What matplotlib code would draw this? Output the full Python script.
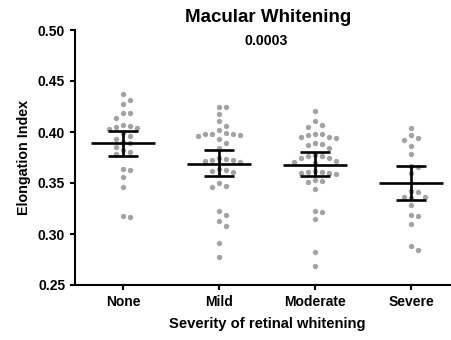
import matplotlib
matplotlib.use("Agg")
import matplotlib.pyplot as plt
import numpy as np

plt.rcParams['font.family'] = ['Liberation Sans', 'DejaVu Sans']
plt.rcParams['font.weight'] = 'bold'

groups = ["None", "Mild", "Moderate", "Severe"]

none_vals = [0.437, 0.431, 0.427, 0.419, 0.419, 0.414, 0.407, 0.406, 0.405, 0.404,
             0.403, 0.399, 0.396, 0.393, 0.390, 0.389, 0.385, 0.382, 0.380, 0.378,
             0.364, 0.363, 0.356, 0.346, 0.318, 0.317]
mild_vals = [0.425, 0.425, 0.418, 0.411, 0.406, 0.402, 0.399, 0.398, 0.398, 0.398,
             0.397, 0.396, 0.393, 0.389, 0.384, 0.375, 0.374, 0.373, 0.373, 0.372,
             0.371, 0.364, 0.363, 0.362, 0.361, 0.350, 0.347, 0.346, 0.323, 0.319,
             0.313, 0.308, 0.291, 0.277]
moderate_vals = [0.421, 0.411, 0.407, 0.405, 0.398, 0.398, 0.397, 0.395, 0.395, 0.394,
                 0.389, 0.388, 0.387, 0.384, 0.377, 0.376, 0.376, 0.375, 0.375, 0.372,
                 0.371, 0.370, 0.362, 0.361, 0.361, 0.360, 0.360, 0.359, 0.353, 0.352,
                 0.351, 0.344, 0.323, 0.322, 0.315, 0.282, 0.269]
severe_vals = [0.404, 0.397, 0.394, 0.392, 0.386, 0.378, 0.367, 0.366, 0.360, 0.342,
               0.341, 0.336, 0.336, 0.335, 0.328, 0.319, 0.318, 0.310, 0.288, 0.284]

means = [0.389, 0.369, 0.368, 0.350]
ci_low = [0.376, 0.357, 0.357, 0.333]
ci_high = [0.401, 0.382, 0.380, 0.367]

p_value = "0.0003"

# pixel scales used for swarm spacing (96 px per category, 1020 px per unit)
PX_X = 96.0
PX_Y = 1020.0


def swarm_offsets(vals, gap=7.0):
    order = np.argsort(vals)[::-1]
    placed = []
    offs = np.zeros(len(vals))
    for i in order:
        y = vals[i] * PX_Y
        k = 0
        while True:
            cands = [0.0] if k == 0 else [k * gap, -k * gap]
            ok = None
            for c in cands:
                if all((c - px) ** 2 + (y - py) ** 2 >= gap ** 2 for px, py in placed):
                    ok = c
                    break
            if ok is not None:
                break
            k += 1
        placed.append((ok, y))
        offs[i] = ok / PX_X
    return offs


fig = plt.figure(figsize=(4.52, 3.40), dpi=100)
ax = fig.add_axes([75 / 452, 55 / 340, 384 / 452, 255 / 340])

all_vals = [none_vals, mild_vals, moderate_vals, severe_vals]
for i, vals in enumerate(all_vals):
    vals = np.array(vals)
    xs = i + swarm_offsets(vals)
    ax.scatter(xs, vals, s=15, color="#a3a3a3", linewidths=0, zorder=2, clip_on=False)

x = np.arange(len(groups))
ax.hlines(means, x - 0.33, x + 0.33, color="black", lw=1.9, zorder=3)
ax.hlines(ci_low, x - 0.16, x + 0.16, color="black", lw=1.9, zorder=3)
ax.hlines(ci_high, x - 0.16, x + 0.16, color="black", lw=1.9, zorder=3)
ax.vlines(x, ci_low, ci_high, color="black", lw=1.9, zorder=3)

ax.set_xlim(-0.5, 3.5)
ax.set_ylim(0.25, 0.50)
ax.set_xticks(x)
ax.set_xticklabels(groups)
ax.set_yticks([0.25, 0.30, 0.35, 0.40, 0.45, 0.50])
ax.set_yticklabels(["0.25", "0.30", "0.35", "0.40", "0.45", "0.50"])
ax.tick_params(axis="both", labelsize=10, width=1.5, length=3.6, pad=3.5)

for s in ["top", "right"]:
    ax.spines[s].set_visible(False)
for s in ["left", "bottom"]:
    ax.spines[s].set_linewidth(1.5)

ax.set_ylabel("Elongation Index", fontsize=10.3, fontweight="bold", labelpad=5)
ax.set_xlabel("Severity of retinal whitening", fontsize=10.6, fontweight="bold", labelpad=6)

fig.text(268 / 452, 1 - 18 / 340, "Macular Whitening", ha="center", va="center",
         fontsize=13.5, fontweight="bold")
fig.text(266 / 452, 1 - 41 / 340, p_value, ha="center", va="center",
         fontsize=10.2, fontweight="bold")

fig.savefig("out.png", dpi=100)
